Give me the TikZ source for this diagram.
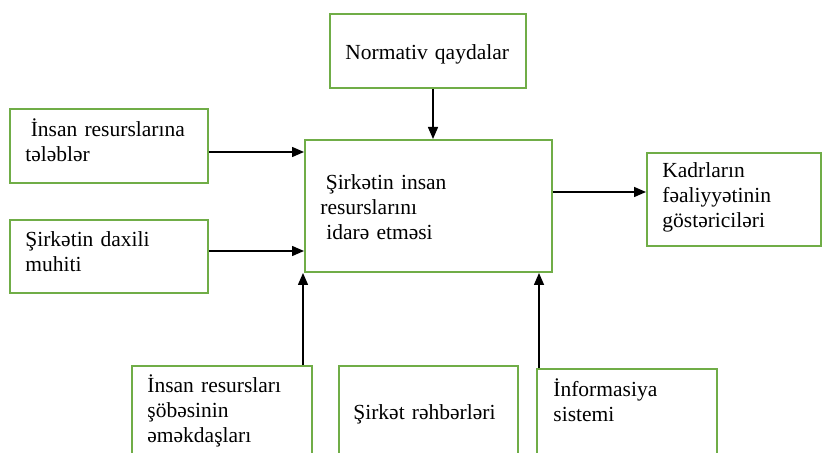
\documentclass[tikz,border=0pt]{standalone}
\usepackage{fontspec}
\setmainfont{Liberation Serif}
\usetikzlibrary{arrows.meta,fit}
\definecolor{boxgreen}{RGB}{112,173,71}
\begin{document}
\begin{tikzpicture}[x=0.5pt,y=-0.5pt,
  box/.style={draw=boxgreen, line width=1pt, inner sep=0pt},
  txt/.style={anchor=base west, inner sep=0pt, text width=120pt, align=left,
    font=\fontsize{10.75pt}{12.4pt}\selectfont},
  arr/.style={-{Triangle[length=6pt,width=5pt]}, line width=0.75pt}]
  % page frame
  \useasboundingbox (0,0) rectangle (823,453);
  \clip (0,0) rectangle (823,453);
  \fill[white] (0,0) rectangle (823,453);

  % boxes
  \node[box, fit={(10,109) (208,183)}] (req) {};
  \node[box, fit={(10,220) (208,293)}] (env) {};
  \node[box, fit={(330,14) (526,88)}] (norm) {};
  \node[box, fit={(305,140) (552,272)}] (hrm) {};
  \node[box, fit={(647,153) (821,246)}] (kpi) {};
  \node[box, fit={(132,366) (312,470)}] (staff) {};
  \node[box, fit={(339,366) (518,470)}] (heads) {};
  \node[box, fit={(537,369) (717,470)}] (info) {};

  % labels
  \node[txt] (req-t) at (25,137) {\hspace*{2.7pt}İnsan resurslarına\\tələblər};
  \node[txt] (env-t) at (25,247) {Şirkətin daxili\\muhiti};
  \node[txt] (norm-t) at (345,60) {Normativ qaydalar};
  \node[txt] (hrm-t) at (320,190) {\hspace*{2.7pt}Şirkətin insan\\resurslarını\\\hspace*{3pt}idarə etməsi};
  \node[txt] (kpi-t) at (662,178) {Kadrların\\fəaliyyətinin\\göstəriciləri};
  \node[txt] (staff-t) at (147,393) {İnsan resursları\\şöbəsinin\\əməkdaşları};
  \node[txt] (heads-t) at (353,419) {Şirkət rəhbərləri};
  \node[txt] (info-t) at (553,397) {İnformasiya\\sistemi};

  % connector levels
  \coordinate (lv1) at (0,152);
  \coordinate (lv2) at (0,251);
  \coordinate (lv3) at (0,192);
  \coordinate (cx1) at (433,0);
  \coordinate (cx2) at (303,0);
  \coordinate (cx3) at (539,0);

  % connectors
  \draw[arr] (req.east |- lv1) -- (hrm.west |- lv1);
  \draw[arr] (env.east |- lv2) -- (hrm.west |- lv2);
  \draw[arr] (norm.south -| cx1) -- (hrm.north -| cx1);
  \draw[arr] (hrm.east |- lv3) -- (kpi.west |- lv3);
  \draw[arr] (staff.north -| cx2) -- (hrm.south -| cx2);
  \draw[arr] (info.north -| cx3) -- (hrm.south -| cx3);
\end{tikzpicture}
\end{document}
